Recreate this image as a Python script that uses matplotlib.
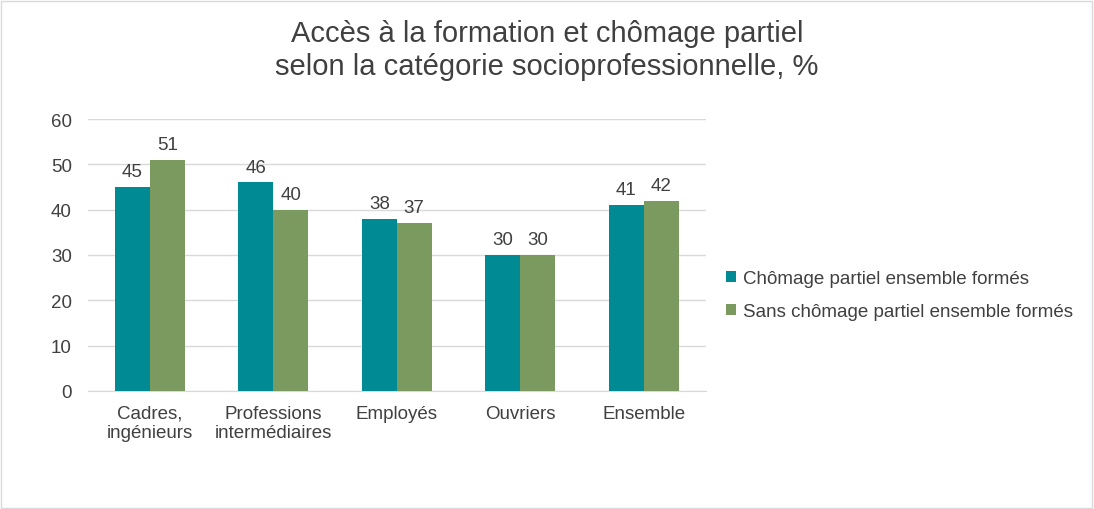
import numpy as np
import matplotlib.pyplot as plt
from matplotlib.patches import Rectangle

plt.rcParams['font.family'] = ['Liberation Sans', 'DejaVu Sans']

categories = ['Cadres,\ningénieurs', 'Professions\nintermédiaires', 'Employés', 'Ouvriers', 'Ensemble']
chomage = [45, 46, 38, 30, 41]
sans_chomage = [51, 40, 37, 30, 42]
series_names = ['Chômage partiel ensemble formés', 'Sans chômage partiel ensemble formés']

teal = '#008B94'
green = '#7A9A60'
txt = '#404040'

fig = plt.figure(figsize=(10.94, 5.10), dpi=100)
ax = fig.add_axes([0.0804, 0.2314, 0.5646, 0.5333])

x = np.arange(len(categories))
w = 0.283
b1 = ax.bar(x - w / 2, chomage, w, color=teal, label=series_names[0], zorder=3)
b2 = ax.bar(x + w / 2, sans_chomage, w, color=green, label=series_names[1], zorder=3)

for bars in (b1, b2):
    for r in bars:
        ax.annotate(f'{r.get_height():.0f}', (r.get_x() + r.get_width() / 2, r.get_height()),
                    xytext=(0, 5), textcoords='offset points', ha='center', va='bottom',
                    fontsize=13.5, color=txt)

ax.set_xlim(-0.5, len(categories) - 0.5)
ax.set_ylim(0, 60)
ax.set_yticks(range(0, 61, 10))
ax.set_xticks(x)
ax.set_xticklabels(categories, fontsize=13.5, color=txt, linespacing=1.2)
ax.tick_params(axis='y', labelsize=13.5, colors=txt, length=0, pad=11.5)
ax.tick_params(axis='x', length=0, pad=10)
ax.grid(axis='y', color='#D9D9D9', linewidth=1, zorder=0)
for s in ['top', 'right', 'left']:
    ax.spines[s].set_visible(False)
ax.spines['bottom'].set_color('#D9D9D9')

fig.text(0.5, 0.96, 'Accès à la formation et chômage partiel\nselon la catégorie socioprofessionnelle, %',
         ha='center', va='top', fontsize=21, color=txt, linespacing=1.2)

fig.legend(handles=[b1, b2], loc='center left', bbox_to_anchor=(0.648, 0.419), frameon=False,
           fontsize=13.5, labelcolor=txt, handlelength=0.55, handleheight=0.55, handletextpad=0.35,
           labelspacing=0.85)

fig.patches.append(Rectangle((0.001, 0.002), 0.997, 0.995, transform=fig.transFigure,
                             fill=False, edgecolor='#D9D9D9', linewidth=1))

fig.savefig('out.png', dpi=100)
